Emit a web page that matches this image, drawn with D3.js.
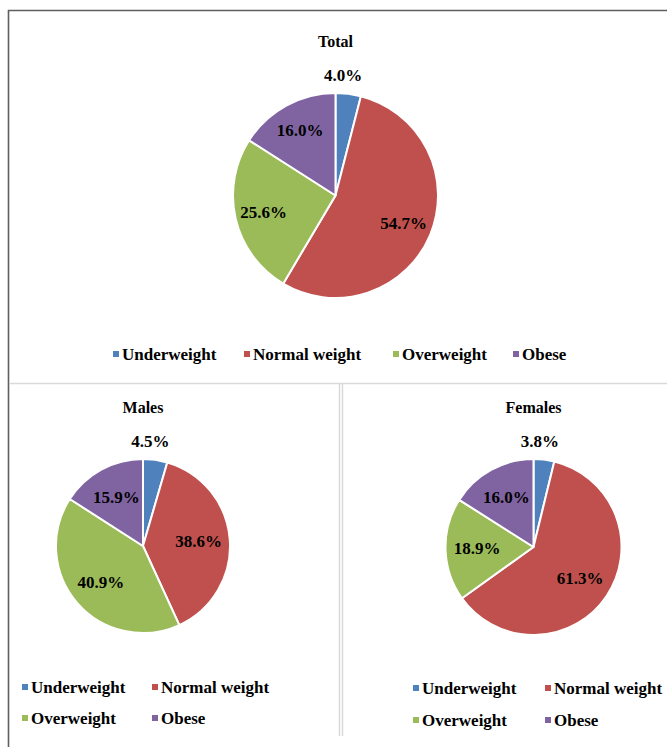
<!DOCTYPE html>
<html>
<head>
<meta charset="utf-8">
<script src="https://cdn.jsdelivr.net/npm/d3@7"></script>
<style>
  html, body { margin: 0; padding: 0; background: #fff; }
  svg { display: block; }
  text { font-family: "Liberation Serif", "Times New Roman", serif; font-weight: bold; fill: #000; }
</style>
</head>
<body>
<svg id="chart" width="667" height="747"></svg>
<script>
const categories = ["Underweight", "Normal weight", "Overweight", "Obese"];
const colors = ["#4F81BD", "#C0504D", "#9BBB59", "#8064A2"];
const panelTitles = ["Total", "Males", "Females"];
const totalValues = [4.0, 54.7, 25.6, 16.0];
const maleValues = [4.5, 38.6, 40.9, 15.9];
const femaleValues = [3.8, 61.3, 18.9, 16.0];

const svg = d3.select("#chart");

// Panel frames
svg.append("line").attr("x1", 8.5).attr("x2", 8.5).attr("y1", 10).attr("y2", 747)
  .attr("stroke", "#5f5f5f").attr("stroke-width", 1.6);
svg.append("line").attr("x1", 8).attr("x2", 667).attr("y1", 10.5).attr("y2", 10.5)
  .attr("stroke", "#5f5f5f").attr("stroke-width", 1.6);
svg.append("line").attr("x1", 10).attr("x2", 667).attr("y1", 383.5).attr("y2", 383.5)
  .attr("stroke", "#d9d9d9").attr("stroke-width", 1.5);
svg.append("line").attr("x1", 339.5).attr("x2", 339.5).attr("y1", 383).attr("y2", 736)
  .attr("stroke", "#d9d9d9").attr("stroke-width", 1.5);
svg.append("line").attr("x1", 342.5).attr("x2", 342.5).attr("y1", 383).attr("y2", 736)
  .attr("stroke", "#d9d9d9").attr("stroke-width", 1.5);

const panels = [
  { title: panelTitles[0], values: totalValues, cx: 335.5, cy: 195.5, r: 102.5, titleY: 47, labelF: 0.72,
    legend: { x: 113, y: 354, rows: [[0, 1, 2, 3]], colX: [0, 131, 280, 400], rowH: 31 } },
  { title: panelTitles[1], values: maleValues, cx: 143, cy: 546, r: 87, titleY: 413, labelF: 0.64,
    legend: { x: 22, y: 687, rows: [[0, 1], [2, 3]], colX: [0, 130], rowH: 31 } },
  { title: panelTitles[2], values: femaleValues, cx: 533.5, cy: 547, r: 88, titleY: 413, labelF: 0.64,
    legend: { x: 413, y: 688, rows: [[0, 1], [2, 3]], colX: [0, 132], rowH: 32 } }
];

const pie = d3.pie().sort(null).value(d => d).startAngle(0).endAngle(2 * Math.PI);

panels.forEach(p => {
  const g = svg.append("g").attr("transform", `translate(${p.cx},${p.cy})`);
  const arc = d3.arc().innerRadius(0).outerRadius(p.r);
  const labelArc = d3.arc().innerRadius(p.r * p.labelF).outerRadius(p.r * p.labelF);
  const edgeArc = d3.arc().innerRadius(p.r).outerRadius(p.r);
  const arcs = pie(p.values);

  g.selectAll("path").data(arcs).enter().append("path")
    .attr("d", arc)
    .attr("fill", (d, i) => colors[i])
    .attr("stroke", "#fff")
    .attr("stroke-width", 2)
    .attr("stroke-linejoin", "round");

  g.selectAll("text.lbl").data(arcs).enter().append("text")
    .attr("class", "lbl")
    .attr("text-anchor", "middle")
    .attr("dominant-baseline", "central")
    .attr("font-size", 17)
    .attr("transform", d => {
      if (d.data < 6) {
        const c = edgeArc.centroid(d);
        return `translate(${c[0] * 0.6},${c[1] - 18})`;
      }
      const c = labelArc.centroid(d);
      return `translate(${c[0]},${c[1]})`;
    })
    .text(d => d.data.toFixed(1) + "%");

  svg.append("text")
    .attr("x", p.cx).attr("y", p.titleY)
    .attr("text-anchor", "middle")
    .attr("font-size", 16)
    .text(p.title);

  const lg = svg.append("g").attr("transform", `translate(${p.legend.x},${p.legend.y})`);
  p.legend.rows.forEach((row, ri) => {
    row.forEach((ci, k) => {
      const item = lg.append("g").attr("transform", `translate(${p.legend.colX[k]},${ri * p.legend.rowH})`);
      item.append("rect").attr("x", 0).attr("y", -3).attr("width", 6).attr("height", 6).attr("fill", colors[ci]);
      item.append("text").attr("x", 9).attr("y", 0)
        .attr("dominant-baseline", "central")
        .attr("font-size", 17)
        .text(categories[ci]);
    });
  });
});
</script>
</body>
</html>
